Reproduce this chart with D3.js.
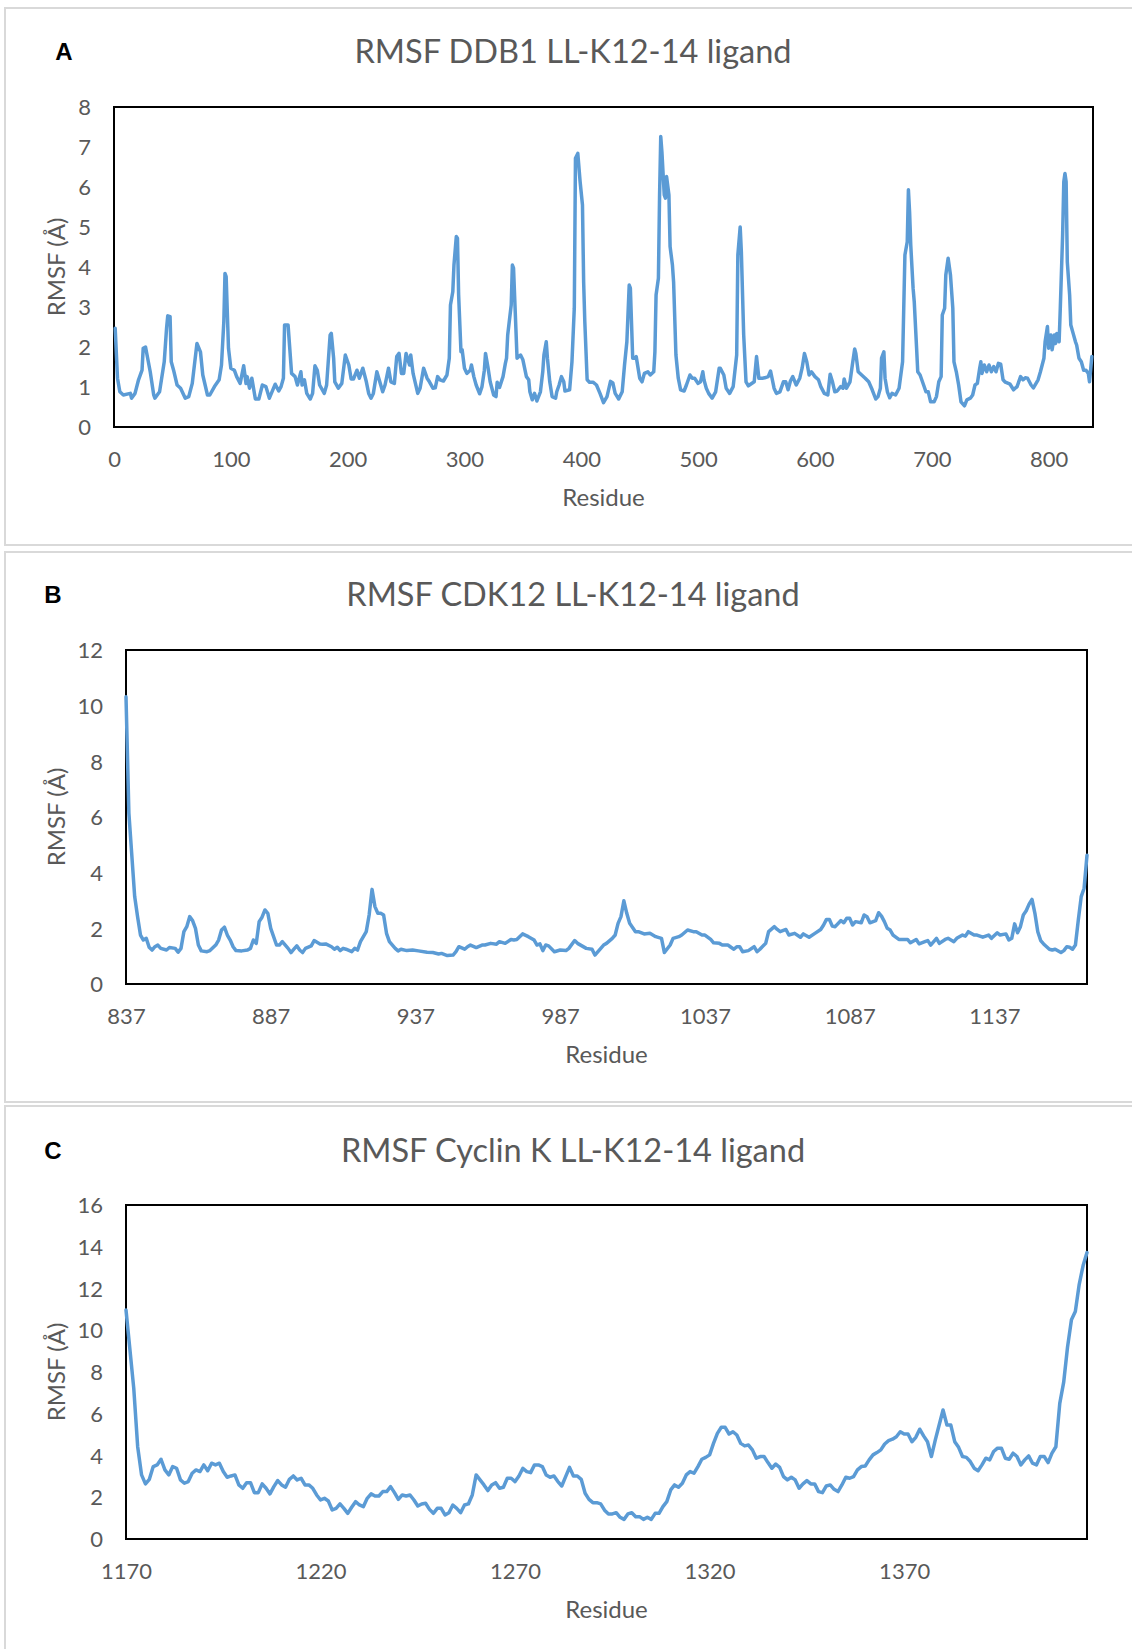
<!DOCTYPE html>
<html>
<head>
<meta charset="utf-8">
<script src="https://cdn.jsdelivr.net/npm/d3@7"></script>
<style>
  body { margin: 0; background: #fff; }
  svg { display: block; }
  .tick text { fill: #595959; font-family: Lato, "Open Sans", sans-serif; font-size: 22px; }
</style>
</head>
<body>
<div class="fig"></div>
<script>
// residue, RMSF (Å)
var ddb1 = [[1,2.47],[3,1.22],[5,0.88],[8,0.8],[14,0.84],[15,0.72],[18,0.84],[21,1.18],[24,1.42],[25,1.97],[27,2.0],[31,1.38],[34,0.8],[35,0.72],[39,0.88],[43,1.63],[45,2.47],[46,2.78],[48,2.76],[49,1.63],[51,1.42],[54,1.05],[57,0.97],[61,0.72],[64,0.76],[67,1.09],[71,2.09],[74,1.88],[76,1.3],[80,0.8],[82,0.8],[86,1.01],[90,1.18],[92,1.55],[94,2.63],[95,3.84],[96,3.76],[98,1.97],[100,1.47],[103,1.42],[105,1.26],[108,1.09],[111,1.53],[113,1.09],[114,1.26],[116,0.97],[118,1.22],[121,0.7],[124,0.7],[127,1.05],[130,1.01],[133,0.72],[138,1.07],[141,0.9],[143,1.01],[145,1.22],[146,2.55],[149,2.55],[152,1.34],[155,1.26],[157,1.05],[160,1.38],[161,1.05],[163,1.18],[165,0.84],[168,0.7],[170,0.84],[172,1.53],[174,1.42],[176,1.05],[180,0.84],[182,1.05],[185,2.3],[186,2.34],[188,1.72],[189,1.13],[192,0.97],[195,1.09],[198,1.8],[201,1.55],[203,1.2],[205,1.2],[208,1.42],[210,1.22],[213,1.47],[216,1.13],[218,0.84],[220,0.72],[222,0.84],[225,1.38],[227,1.18],[230,0.88],[232,1.05],[235,1.47],[237,1.13],[240,1.09],[242,1.76],[244,1.84],[246,1.34],[248,1.34],[250,1.84],[253,1.55],[254,1.8],[256,1.34],[258,1.09],[260,0.84],[262,0.97],[265,1.47],[268,1.22],[270,1.13],[273,0.97],[275,0.98],[277,1.26],[279,1.18],[282,1.15],[285,1.3],[287,1.72],[288,3.05],[290,3.38],[291,4.05],[293,4.76],[294,4.72],[295,3.3],[297,1.88],[298,1.93],[300,1.47],[302,1.34],[305,1.42],[306,1.55],[308,1.26],[310,1.05],[313,0.83],[315,1.01],[317,1.42],[318,1.84],[320,1.51],[322,1.13],[325,0.8],[327,0.76],[328,1.12],[330,0.99],[333,1.26],[335,1.59],[336,1.72],[337,2.3],[340,3.05],[341,4.05],[342,3.97],[344,2.47],[345,1.72],[348,1.8],[350,1.68],[353,1.26],[355,1.18],[356,0.88],[358,0.68],[360,0.84],[362,0.65],[365,0.88],[367,1.38],[368,1.8],[370,2.13],[371,1.72],[373,1.13],[375,0.76],[378,0.72],[379,0.88],[381,1.05],[383,1.26],[385,1.13],[386,0.9],[390,0.93],[392,1.63],[394,2.97],[395,6.72],[397,6.84],[399,6.13],[401,5.55],[402,3.63],[403,2.63],[405,1.18],[407,1.12],[410,1.12],[413,1.05],[416,0.84],[419,0.61],[422,0.76],[425,1.14],[427,1.1],[429,0.84],[432,0.7],[435,0.88],[437,1.55],[439,2.13],[441,3.55],[442,3.47],[444,1.72],[446,1.72],[447,1.76],[450,1.22],[452,1.13],[454,1.34],[457,1.38],[459,1.3],[462,1.38],[463,1.88],[464,3.3],[466,3.72],[467,5.8],[468,7.26],[469,6.88],[471,5.8],[472,5.72],[473,6.26],[475,5.8],[476,4.51],[478,4.05],[479,3.63],[481,1.8],[483,1.22],[485,0.93],[488,0.9],[490,1.05],[493,1.3],[495,1.22],[497,1.22],[500,1.09],[502,1.13],[504,1.38],[505,1.18],[507,0.97],[509,0.84],[512,0.72],[515,0.88],[518,1.47],[519,1.47],[522,1.3],[524,0.97],[527,0.84],[530,1.01],[533,1.8],[534,4.3],[536,5.0],[537,4.38],[539,2.3],[541,1.13],[543,1.03],[548,1.13],[550,1.76],[552,1.22],[555,1.22],[557,1.23],[560,1.26],[562,1.4],[565,0.97],[567,0.84],[570,0.88],[573,1.13],[575,1.13],[577,0.93],[579,1.15],[581,1.26],[584,1.05],[587,1.22],[589,1.47],[591,1.84],[593,1.63],[595,1.3],[597,1.38],[600,1.26],[603,1.18],[605,1.01],[608,0.84],[611,0.8],[613,1.32],[615,1.13],[617,0.88],[619,0.9],[622,1.01],[624,0.97],[625,1.2],[627,0.97],[630,1.13],[632,1.55],[634,1.95],[635,1.84],[637,1.38],[640,1.3],[643,1.22],[646,1.13],[649,0.93],[652,0.7],[654,0.76],[656,0.97],[657,1.72],[659,1.88],[660,1.22],[662,0.88],[664,0.73],[666,0.84],[669,0.8],[672,0.97],[675,1.63],[676,2.97],[677,4.3],[679,4.63],[680,5.93],[681,5.38],[682,4.55],[684,3.47],[685,3.13],[687,1.97],[688,1.38],[690,1.3],[693,1.05],[695,0.88],[697,0.88],[699,0.63],[702,0.63],[704,0.76],[706,1.13],[708,1.26],[709,2.8],[711,2.97],[712,3.8],[714,4.22],[716,3.8],[718,2.97],[719,1.63],[721,1.38],[723,1.05],[725,0.63],[728,0.53],[730,0.68],[733,0.72],[735,0.8],[737,1.05],[739,1.09],[741,1.47],[742,1.63],[743,1.34],[745,1.55],[747,1.38],[749,1.55],[751,1.38],[753,1.51],[755,1.38],[757,1.59],[759,1.57],[761,1.18],[763,1.12],[767,1.07],[770,0.93],[773,1.01],[776,1.26],[778,1.18],[780,1.23],[782,1.22],[785,1.05],[787,0.98],[791,1.18],[793,1.38],[796,1.72],[797,2.13],[799,2.51],[800,1.97],[802,2.3],[803,1.93],[805,2.3],[806,2.09],[807,2.34],[809,2.13],[810,2.97],[812,4.8],[813,6.13],[814,6.34],[815,6.13],[816,4.13],[818,3.3],[819,2.55],[821,2.34],[823,2.13],[824,2.05],[826,1.72],[828,1.63],[830,1.42],[832,1.42],[834,1.34],[835,1.13],[837,1.76]];

var cdk12 = [[837,10.32],[838,6.13],[840,3.14],[841,2.42],[842,1.76],[843,1.58],[844,1.64],[845,1.32],[846,1.22],[847,1.34],[848,1.4],[849,1.28],[851,1.22],[852,1.31],[854,1.28],[855,1.14],[856,1.28],[857,1.88],[858,2.06],[859,2.42],[860,2.28],[861,2.0],[862,1.4],[863,1.19],[865,1.16],[866,1.2],[868,1.4],[869,1.58],[870,1.94],[871,2.04],[872,1.76],[873,1.58],[874,1.34],[875,1.2],[877,1.19],[879,1.22],[880,1.28],[881,1.58],[882,1.46],[883,2.24],[884,2.4],[885,2.66],[886,2.54],[887,2.0],[889,1.4],[890,1.4],[891,1.52],[893,1.28],[894,1.13],[895,1.25],[896,1.37],[897,1.22],[898,1.13],[899,1.28],[901,1.37],[902,1.56],[904,1.44],[905,1.43],[906,1.44],[908,1.34],[909,1.25],[910,1.32],[911,1.2],[912,1.28],[913,1.25],[915,1.16],[916,1.28],[917,1.22],[918,1.52],[920,1.88],[921,2.48],[922,3.4],[923,2.78],[924,2.54],[925,2.54],[926,2.48],[927,1.82],[928,1.52],[930,1.28],[931,1.19],[932,1.25],[934,1.2],[936,1.22],[938,1.19],[941,1.14],[943,1.13],[945,1.08],[946,1.1],[948,1.02],[950,1.04],[951,1.16],[952,1.34],[954,1.25],[955,1.34],[956,1.4],[958,1.31],[960,1.4],[961,1.4],[963,1.46],[965,1.43],[966,1.52],[968,1.46],[970,1.6],[971,1.58],[972,1.6],[974,1.8],[976,1.7],[978,1.58],[979,1.4],[980,1.44],[981,1.2],[982,1.4],[983,1.37],[985,1.16],[987,1.22],[989,1.2],[990,1.28],[992,1.56],[993,1.46],[996,1.28],[998,1.25],[999,1.04],[1002,1.4],[1003,1.46],[1005,1.64],[1006,1.76],[1007,2.18],[1008,2.42],[1009,2.99],[1010,2.54],[1011,2.18],[1013,1.88],[1014,1.88],[1016,1.8],[1018,1.82],[1020,1.7],[1022,1.64],[1023,1.13],[1025,1.4],[1026,1.64],[1028,1.7],[1029,1.76],[1031,1.94],[1033,1.88],[1034,1.88],[1036,1.76],[1037,1.76],[1039,1.6],[1040,1.48],[1042,1.46],[1043,1.4],[1045,1.4],[1046,1.32],[1047,1.25],[1048,1.34],[1049,1.34],[1050,1.16],[1052,1.2],[1054,1.34],[1055,1.16],[1056,1.25],[1058,1.46],[1059,1.88],[1061,2.06],[1062,1.96],[1063,1.88],[1065,1.96],[1066,1.76],[1068,1.82],[1070,1.68],[1071,1.8],[1073,1.68],[1075,1.82],[1077,1.96],[1078,2.12],[1079,2.32],[1080,2.32],[1081,2.08],[1082,2.06],[1084,2.28],[1085,2.2],[1086,2.36],[1087,2.36],[1088,2.12],[1089,2.24],[1091,2.2],[1092,2.48],[1093,2.42],[1094,2.2],[1096,2.28],[1097,2.56],[1098,2.44],[1099,2.24],[1100,2.0],[1101,1.94],[1102,1.76],[1104,1.6],[1106,1.6],[1107,1.6],[1108,1.48],[1110,1.6],[1111,1.44],[1113,1.52],[1114,1.56],[1115,1.4],[1117,1.64],[1118,1.46],[1120,1.6],[1121,1.64],[1123,1.52],[1124,1.64],[1126,1.76],[1127,1.72],[1128,1.88],[1130,1.76],[1131,1.76],[1133,1.68],[1135,1.76],[1136,1.64],[1138,1.84],[1139,1.76],[1141,1.8],[1142,1.58],[1143,1.64],[1144,2.16],[1145,1.84],[1146,2.06],[1147,2.48],[1148,2.63],[1149,2.87],[1150,3.04],[1151,2.54],[1152,1.88],[1153,1.56],[1154,1.44],[1156,1.25],[1157,1.22],[1158,1.25],[1160,1.13],[1161,1.2],[1162,1.34],[1163,1.32],[1164,1.25],[1165,1.4],[1166,2.3],[1167,3.14],[1168,3.44],[1169,4.63]];

var cyclinK = [[1170,10.97],[1172,7.2],[1173,4.42],[1174,3.07],[1175,2.64],[1176,2.86],[1177,3.47],[1178,3.55],[1179,3.82],[1180,3.31],[1181,3.07],[1182,3.47],[1183,3.39],[1184,2.83],[1185,2.67],[1186,2.75],[1187,3.15],[1188,3.31],[1189,3.23],[1190,3.55],[1191,3.27],[1192,3.63],[1193,3.55],[1194,3.63],[1195,3.23],[1196,2.96],[1197,3.02],[1198,3.07],[1199,2.59],[1200,2.43],[1201,2.7],[1202,2.7],[1203,2.22],[1204,2.22],[1205,2.64],[1206,2.43],[1207,2.16],[1208,2.51],[1209,2.8],[1210,2.59],[1211,2.48],[1212,2.86],[1213,3.02],[1214,2.83],[1215,2.91],[1216,2.59],[1217,2.59],[1218,2.43],[1219,2.11],[1220,1.87],[1221,1.95],[1222,1.82],[1223,1.39],[1224,1.47],[1225,1.68],[1226,1.47],[1227,1.23],[1228,1.52],[1229,1.79],[1230,1.63],[1231,1.55],[1232,1.95],[1233,2.16],[1234,2.06],[1235,2.06],[1236,2.27],[1237,2.27],[1238,2.51],[1239,2.22],[1240,1.9],[1241,2.11],[1242,2.06],[1243,2.11],[1244,1.87],[1245,1.58],[1246,1.68],[1247,1.71],[1248,1.42],[1249,1.23],[1250,1.47],[1251,1.47],[1252,1.15],[1253,1.26],[1254,1.63],[1255,1.47],[1256,1.26],[1257,1.63],[1258,1.68],[1259,2.11],[1260,3.07],[1261,2.83],[1262,2.59],[1263,2.32],[1264,2.59],[1265,2.7],[1266,2.43],[1267,2.48],[1268,2.91],[1269,2.91],[1270,2.75],[1271,3.02],[1272,3.39],[1273,3.23],[1274,3.18],[1275,3.55],[1276,3.55],[1277,3.47],[1278,3.07],[1279,2.96],[1280,3.02],[1281,2.75],[1282,2.54],[1283,2.99],[1284,3.43],[1285,3.02],[1286,3.02],[1287,2.86],[1288,2.19],[1289,1.9],[1290,1.74],[1291,1.74],[1292,1.68],[1293,1.38],[1294,1.2],[1295,1.2],[1296,1.26],[1297,1.04],[1298,0.94],[1299,1.2],[1300,1.26],[1301,1.07],[1302,1.07],[1303,0.94],[1304,1.04],[1305,0.94],[1306,1.23],[1307,1.23],[1308,1.55],[1309,1.79],[1310,2.35],[1311,2.59],[1312,2.48],[1313,2.67],[1314,3.07],[1315,3.23],[1316,3.15],[1317,3.47],[1318,3.82],[1319,3.91],[1320,4.03],[1321,4.58],[1322,5.06],[1323,5.35],[1324,5.35],[1325,5.03],[1326,5.14],[1327,4.98],[1328,4.58],[1329,4.46],[1330,4.5],[1331,4.27],[1332,3.87],[1333,3.95],[1334,3.95],[1335,3.66],[1336,3.39],[1337,3.59],[1338,3.43],[1339,2.99],[1340,2.83],[1341,2.96],[1342,2.83],[1343,2.43],[1344,2.64],[1345,2.8],[1346,2.64],[1347,2.64],[1348,2.27],[1349,2.22],[1350,2.54],[1351,2.59],[1352,2.38],[1353,2.27],[1354,2.59],[1355,2.96],[1356,2.91],[1357,2.99],[1358,3.31],[1359,3.47],[1360,3.5],[1361,3.79],[1362,4.03],[1363,4.14],[1364,4.27],[1365,4.55],[1366,4.71],[1367,4.78],[1368,4.9],[1369,5.14],[1370,5.03],[1371,5.03],[1372,4.66],[1373,4.87],[1374,5.26],[1375,4.94],[1376,4.66],[1377,3.95],[1378,4.74],[1379,5.46],[1380,6.18],[1381,5.46],[1382,5.46],[1383,4.66],[1384,4.39],[1385,3.95],[1386,3.91],[1387,3.71],[1388,3.39],[1389,3.27],[1390,3.55],[1391,3.87],[1392,3.79],[1393,4.19],[1394,4.35],[1395,4.35],[1396,3.87],[1397,3.82],[1398,4.11],[1399,3.95],[1400,3.55],[1401,3.79],[1402,3.98],[1403,3.63],[1404,3.55],[1405,3.95],[1406,3.95],[1407,3.66],[1408,4.11],[1409,4.42],[1410,6.5],[1411,7.5],[1412,9.2],[1413,10.5],[1414,10.9],[1415,12.2],[1416,13.1],[1417,13.72]];

var ddb1XTicks = [0, 100, 200, 300, 400, 500, 600, 700, 800];
var cdk12XTicks = [837, 887, 937, 987, 1037, 1087, 1137];
var cyclinKXTicks = [1170, 1220, 1270, 1320, 1370];

var ddb1YTicks = [0, 1, 2, 3, 4, 5, 6, 7, 8];
var cdk12YTicks = [0, 2, 4, 6, 8, 10, 12];
var cyclinKYTicks = [0, 2, 4, 6, 8, 10, 12, 14, 16];

var panelLetters = ['A', 'B', 'C'];
var titles = ['RMSF DDB1 LL-K12-14 ligand', 'RMSF CDK12 LL-K12-14 ligand', 'RMSF Cyclin K LL-K12-14 ligand'];

var w = 1132,
    h = 1649;

var svg = d3.select('.fig').append('svg').attr('width', w).attr('height', h);

var panels = [
  { data: ddb1, xd: [0, 838], xt: ddb1XTicks, yt: ddb1YTicks,
    box: [8, 545], plot: { l: 114, r: 1093, t: 107, b: 427 }, titleY: 52, letterX: 64 },
  { data: cdk12, xd: [837, 1169], xt: cdk12XTicks, yt: cdk12YTicks,
    box: [552, 1102], plot: { l: 126, r: 1087, t: 650, b: 984 }, titleY: 595, letterX: 53 },
  { data: cyclinK, xd: [1170, 1417], xt: cyclinKXTicks, yt: cyclinKYTicks,
    box: [1106, 1665], plot: { l: 126, r: 1087, t: 1205, b: 1539 }, titleY: 1151, letterX: 53 }
];

panels.forEach(function (p, i) {
  var g = svg.append('g');

  // panel frame (right/bottom run off the page like in the source figure)
  g.append('rect')
    .attr('x', 5).attr('y', p.box[0])
    .attr('width', w + 20).attr('height', p.box[1] - p.box[0])
    .attr('fill', '#fff').attr('stroke', '#d9d9d9').attr('stroke-width', 2);

  g.append('text')
    .attr('x', p.letterX).attr('y', p.titleY)
    .attr('text-anchor', 'middle').attr('dy', '0.35em')
    .style('font-family', '"Liberation Sans", Arial, sans-serif')
    .style('font-weight', 'bold').style('font-size', '24px')
    .text(panelLetters[i]);

  g.append('text')
    .attr('x', 573).attr('y', p.titleY)
    .attr('text-anchor', 'middle').attr('dy', '0.35em')
    .style('font-family', 'Lato, "Open Sans", sans-serif')
    .style('font-size', '32.5px').style('fill', '#595959')
    .text(titles[i]);

  var x = d3.scaleLinear().domain(p.xd).range([p.plot.l, p.plot.r]);
  var y = d3.scaleLinear().domain([0, p.yt[p.yt.length - 1]]).range([p.plot.b, p.plot.t]);

  var xAxis = g.append('g')
    .attr('transform', 'translate(0,' + p.plot.b + ')')
    .call(d3.axisBottom(x).tickValues(p.xt).tickSize(0).tickFormat(d3.format('d')));
  xAxis.select('.domain').remove();
  xAxis.selectAll('text').attr('y', 32).attr('dy', '0.35em');

  var yAxis = g.append('g')
    .attr('transform', 'translate(' + p.plot.l + ',0)')
    .call(d3.axisLeft(y).tickValues(p.yt).tickSize(0).tickFormat(d3.format('d')));
  yAxis.select('.domain').remove();
  yAxis.selectAll('text').attr('x', -23).attr('dy', '0.35em');

  g.append('text')
    .attr('x', (p.plot.l + p.plot.r) / 2).attr('y', p.plot.b + 71)
    .attr('text-anchor', 'middle').attr('dy', '0.35em')
    .style('font-family', 'Lato, "Open Sans", sans-serif')
    .style('font-size', '24px').style('fill', '#595959')
    .text('Residue');

  g.append('text')
    .attr('transform', 'translate(57,' + (p.plot.t + p.plot.b) / 2 + ') rotate(-90)')
    .attr('text-anchor', 'middle').attr('dy', '0.35em')
    .style('font-family', 'Lato, "Open Sans", sans-serif')
    .style('font-size', '24px').style('fill', '#595959')
    .text('RMSF (Å)');

  g.append('rect')
    .attr('x', p.plot.l).attr('y', p.plot.t)
    .attr('width', p.plot.r - p.plot.l).attr('height', p.plot.b - p.plot.t)
    .attr('fill', 'none').attr('stroke', '#000').attr('stroke-width', 2);

  var line = d3.line()
    .x(function (d) { return x(d[0]); })
    .y(function (d) { return y(d[1]); });

  g.append('path')
    .datum(p.data)
    .attr('d', line)
    .attr('fill', 'none')
    .attr('stroke', '#5b9bd5')
    .attr('stroke-width', 3.5)
    .attr('stroke-linejoin', 'round')
    .attr('stroke-linecap', 'round');
});
</script>
</body>
</html>
